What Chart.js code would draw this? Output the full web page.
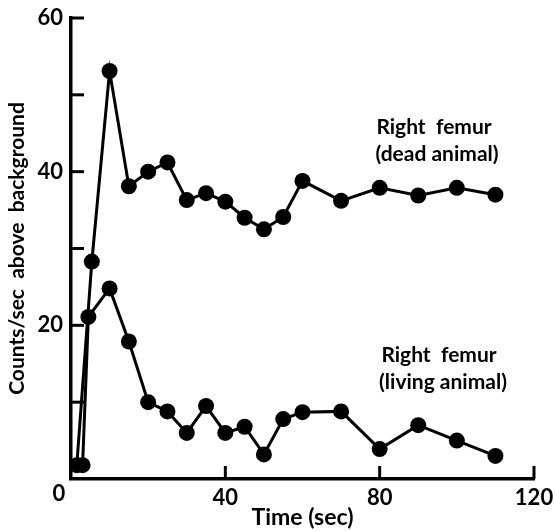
<!DOCTYPE html>
<html>
<head>
<meta charset="utf-8">
<script src="https://cdn.jsdelivr.net/npm/chart.js@4/dist/chart.umd.min.js"></script>
<style>
html,body{margin:0;padding:0;background:#fff;}
#wrap{width:555px;height:531px;}
</style>
</head>
<body>
<div id="wrap"><canvas id="c" width="555" height="531"></canvas></div>
<script>
const deadTime = [1.5, 5.4, 10, 15, 20, 25, 30, 35, 40, 45, 50, 55, 60, 70, 80, 90, 100, 110];
const deadCounts = [1.8, 28.3, 53.1, 38.1, 40, 41.2, 36.3, 37.2, 36.1, 34, 32.5, 34.1, 38.8, 36.2, 37.9, 36.9, 37.9, 37];
const livingTime = [3, 4.5, 10, 15, 20, 25, 30, 35, 40, 45, 50, 55, 60, 70, 80, 90, 100, 110];
const livingCounts = [1.8, 21.1, 24.8, 17.9, 10, 8.8, 6, 9.5, 6, 6.8, 3.2, 7.8, 8.7, 8.8, 3.9, 7, 5, 3];
const xTickLabels = [40, 80, 120];
const yTickLabels = [20, 40, 60];
const yMinorTicks = [10, 20, 30, 40, 50, 60];
const xTitle = 'Time (sec)';
const yTitle = 'Counts/sec  above  background';
const deadLabel = ['Right  femur', '(dead animal)'];
const livingLabel = ['Right  femur', '(living animal)'];

const FONT = 'Lato, "DejaVu Sans", sans-serif';

function toPts(xs, ys){ return xs.map((x,i)=>({x:x, y:ys[i]})); }

const extras = {
  id: 'extras',
  afterDraw(chart){
    const ctx = chart.ctx;
    const xs = chart.scales.x, ys = chart.scales.y;
    const x0 = xs.getPixelForValue(0), y0 = ys.getPixelForValue(0);
    ctx.save();
    ctx.strokeStyle = '#000';
    ctx.lineWidth = 3;
    ctx.lineCap = 'butt';
    yMinorTicks.forEach(v=>{
      const py = ys.getPixelForValue(v);
      ctx.beginPath(); ctx.moveTo(x0, py); ctx.lineTo(x0+13, py); ctx.stroke();
    });
    xTickLabels.forEach(v=>{
      const px = xs.getPixelForValue(v);
      ctx.beginPath(); ctx.moveTo(px, y0); ctx.lineTo(px, y0-13); ctx.stroke();
    });
    ctx.fillStyle = '#000';
    ctx.font = 'bold 22px ' + FONT;
    ctx.textAlign = 'center'; ctx.textBaseline = 'middle';
    ctx.fillText('0', x0-12, y0+15);
    ctx.font = 'bold 21px ' + FONT;
    ctx.fillText(deadLabel[0], 434, 127);
    ctx.fillText(deadLabel[1], 437, 154);
    ctx.fillText(livingLabel[0], 439, 355);
    ctx.fillText(livingLabel[1], 443, 382);
    ctx.restore();
  }
};

new Chart(document.getElementById('c'), {
  type: 'scatter',
  data: {
    datasets: [
      { label: 'dead', data: toPts(deadTime, deadCounts), showLine: true,
        borderColor: '#000', backgroundColor: '#000', borderWidth: 3,
        pointRadius: 8, pointHoverRadius: 8, pointBorderWidth: 0 },
      { label: 'living', data: toPts(livingTime, livingCounts), showLine: true,
        borderColor: '#000', backgroundColor: '#000', borderWidth: 3,
        pointRadius: 8, pointHoverRadius: 8, pointBorderWidth: 0 }
    ]
  },
  options: {
    responsive: false,
    animation: false,
    events: [],
    layout: { padding: { top: 18, right: 21, left: 0, bottom: 0 } },
    plugins: { legend: { display: false }, tooltip: { enabled: false } },
    scales: {
      x: {
        type: 'linear', min: 0, max: 120,
        grid: { display: false, drawTicks: false },
        border: { display: true, color: '#000', width: 3.5 },
        ticks: { stepSize: 40, padding: 6, color: '#000',
          font: { family: FONT, size: 22, weight: 'bold' },
          callback: v => xTickLabels.includes(v) ? String(v) : '' },
        title: { display: true, text: xTitle, color: '#000', padding: {top: 0, bottom: 0},
          font: { family: FONT, size: 23, weight: 'bold' } },
        afterFit: s => { s.height = 52; s.paddingLeft = 0; s.paddingRight = 0; }
      },
      y: {
        type: 'linear', min: 0, max: 60,
        grid: { display: false, drawTicks: false },
        border: { display: true, color: '#000', width: 3.5 },
        ticks: { stepSize: 10, padding: 8, color: '#000',
          font: { family: FONT, size: 22, weight: 'bold' },
          callback: v => yTickLabels.includes(v) ? String(v) : '' },
        title: { display: true, text: yTitle, color: '#000', padding: {top: 5, bottom: 0},
          font: { family: FONT, size: 21, weight: 'bold' } },
        afterFit: s => { s.width = 71; s.paddingTop = 0; s.paddingBottom = 0; }
      }
    }
  },
  plugins: [extras]
});
</script>
</body>
</html>
